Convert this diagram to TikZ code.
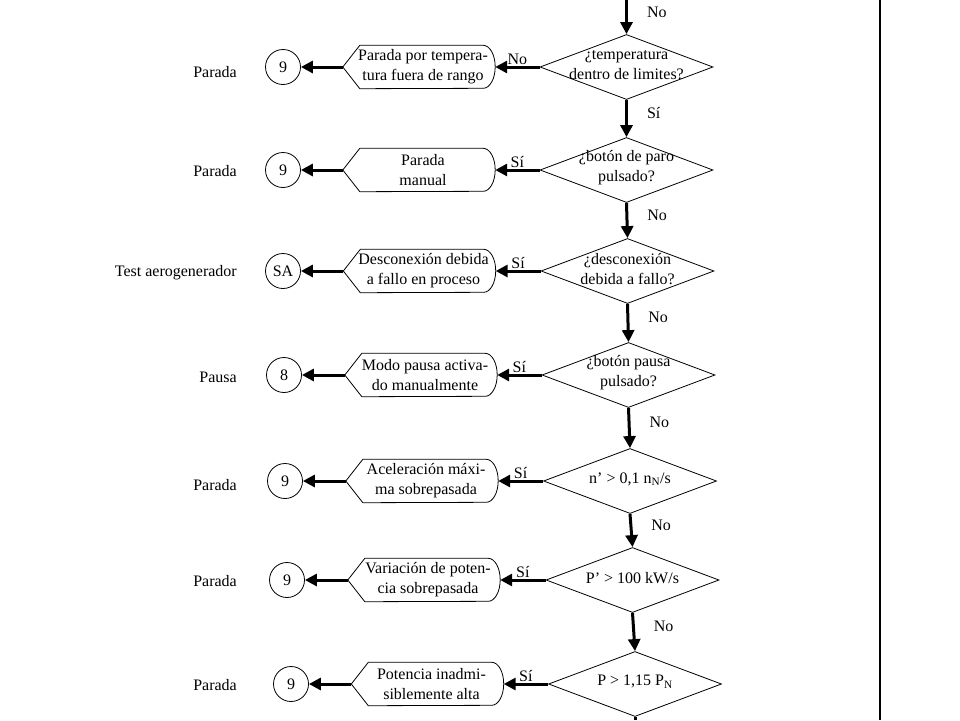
\documentclass[tikz,border=0pt]{standalone}
\usepackage{fontspec}
\setmainfont{Liberation Serif}
\usepackage{tikz}
\tikzset{>=latex}
\usetikzlibrary{arrows.meta}
\usetikzlibrary{shapes}
\usetikzlibrary{positioning}

\begin{document}
\begin{tikzpicture}[x=1pt, y=-1pt, font=\fontsize{16}{20}\selectfont]
            \tikzset{decision/.style={draw, line width=0.8pt, diamond, minimum width=173pt, minimum height=65pt, inner sep=0pt}}
            \tikzset{dtext/.style={align=center, inner sep=0pt, yshift=2pt}}
            \tikzset{stopbox/.style={minimum width=152pt, minimum height=43pt, inner sep=0pt}}
            \tikzset{btext/.style={align=center, inner sep=0pt, xshift=4pt}}
            \tikzset{refcircle/.style={draw, line width=0.8pt, circle, minimum size=35pt, inner sep=0pt}}
            \tikzset{statelabel/.style={anchor=east, inner sep=0pt}}
            \tikzset{flow/.style={line width=3pt, -{Triangle[length=12pt, width=12pt]}}}
            \tikzset{answer/.style={inner sep=1pt}}
            \useasboundingbox (0, 0) rectangle (960, 720);

            % decisions
            \node[decision] (d1) at (626.5, 67) {};
            \node[dtext] (t1) at (d1) {¿temperatura\\dentro de limites?};
            \node[decision] (d2) at (626.5, 170) {};
            \node[dtext] (t2) at (d2) {¿botón de paro\\pulsado?};
            \node[decision] (d3) at (627.5, 271) {};
            \node[dtext] (t3) at (d3) {¿desconexión\\debida a fallo?};
            \node[decision] (d4) at (628.5, 375) {};
            \node[dtext] (t4) at (d4) {¿botón pausa\\pulsado?};
            \node[decision] (d5) at (630, 481) {};
            \node[dtext] (t5) at (d5) {n’ > 0,1 n\textsubscript{N}/s};
            \node[decision] (d6) at (632.5, 580) {};
            \node[dtext] (t6) at (d6) {P’ > 100 kW/s};
            \node[decision] (d7) at (635, 684) {};
            \node[dtext] (t7) at (d7) {P > 1,15 P\textsubscript{N}};

            % stop boxes
            \node[stopbox] (b1) at (419, 67) {};
            \node[btext] (s1) at (b1) {Parada por tempera-\\tura fuera de rango};
            \node[stopbox] (b2) at (419, 170) {};
            \node[btext] (s2) at (b2) {Parada\\manual};
            \node[stopbox] (b3) at (419.5, 271) {};
            \node[btext] (s3) at (b3) {Desconexión debida\\a fallo en proceso};
            \node[stopbox] (b4) at (421, 375) {};
            \node[btext] (s4) at (b4) {Modo pausa activa-\\do manualmente};
            \node[stopbox] (b5) at (422, 481) {};
            \node[btext] (s5) at (b5) {Aceleración máxi-\\ma sobrepasada};
            \node[stopbox] (b6) at (424, 580) {};
            \node[btext] (s6) at (b6) {Variación de poten-\\cia sobrepasada};
            \node[stopbox] (b7) at (427.5, 684) {};
            \node[btext] (s7) at (b7) {Potencia inadmi-\\siblemente alta};
            \foreach \b in {b1, b2, b3, b4, b5, b6, b7}
                \draw[line width=0.8pt] (\b.west) -- ([xshift=17pt]\b.north west) -- ([xshift=-12pt]\b.north east)
                    arc[start angle=90, end angle=-90, x radius=12pt, y radius=21.5pt]
                    -- ([xshift=17pt]\b.south west) -- cycle;

            % connectors to other pages
            \node[refcircle] (c1) at (283, 67) {9};
            \node[refcircle] (c2) at (283, 170) {9};
            \node[refcircle] (c3) at (283, 271) {SA};
            \node[refcircle] (c4) at (284, 375) {8};
            \node[refcircle] (c5) at (285, 481) {9};
            \node[refcircle] (c6) at (287, 580) {9};
            \node[refcircle] (c7) at (291, 684) {9};

            \node[statelabel] (l1) at (237, 72) {Parada};
            \node[statelabel] (l2) at (237, 171) {Parada};
            \node[statelabel] (l3) at (237, 273) {Test aerogenerador};
            \node[statelabel] (l4) at (237, 377) {Pausa};
            \node[statelabel] (l5) at (237, 485) {Parada};
            \node[statelabel] (l6) at (237, 581) {Parada};
            \node[statelabel] (l7) at (237, 685) {Parada};

            % main line
            \coordinate (start) at (626.5, 0);
            \coordinate (end) at (635, 720);
            \draw[flow] (start) -- node[answer, right=18pt, pos=0.35] {No} (d1.north);
            \draw[flow] (d1.south) -- node[answer, right=18pt, pos=0.35] {Sí} (d2.north);
            \draw[flow] (d2.south) -- node[answer, right=18pt, pos=0.35] {No} (d3.north);
            \draw[flow] (d3.south) -- node[answer, right=18pt, pos=0.35] {No} (d4.north);
            \draw[flow] (d4.south) -- node[answer, right=18pt, pos=0.35] {No} (d5.north);
            \draw[flow] (d5.south) -- node[answer, right=18pt, pos=0.35] {No} (d6.north);
            \draw[flow] (d6.south) -- node[answer, right=18pt, pos=0.35] {No} (d7.north);
            \draw[line width=3pt] (d7.south) -- (end);

            % branches
            \draw[flow] (d1.west) -- node[answer, above] {No} (b1.east);
            \draw[flow] (d2.west) -- node[answer, above] {Sí} (b2.east);
            \draw[flow] (d3.west) -- node[answer, above] {Sí} (b3.east);
            \draw[flow] (d4.west) -- node[answer, above] {Sí} (b4.east);
            \draw[flow] (d5.west) -- node[answer, above] {Sí} (b5.east);
            \draw[flow] (d6.west) -- node[answer, above] {Sí} (b6.east);
            \draw[flow] (d7.west) -- node[answer, above] {Sí} (b7.east);
            \draw[flow] (b1.west) -- (c1);
            \draw[flow] (b2.west) -- (c2);
            \draw[flow] (b3.west) -- (c3);
            \draw[flow] (b4.west) -- (c4);
            \draw[flow] (b5.west) -- (c5);
            \draw[flow] (b6.west) -- (c6);
            \draw[flow] (b7.west) -- (c7);

            \draw[line width=2.5pt] (880, 0) -- (880, 720);
\end{tikzpicture}
\end{document}
